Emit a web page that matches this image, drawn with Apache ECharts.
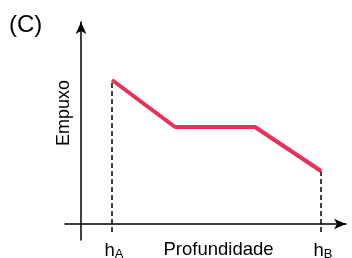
<!DOCTYPE html>
<html>
<head>
<meta charset="utf-8">
<script src="https://cdn.jsdelivr.net/npm/echarts@6/dist/echarts.min.js"></script>
<style>
html, body { margin: 0; padding: 0; background: #fff; }
#chart { width: 352px; height: 258px; }
</style>
</head>
<body>
<div id="chart"></div>
<script>
// profundidade (x) e empuxo (y), unidades arbitrárias
var depth = [3.1, 9.4, 17.4, 24];
var empuxo = [14.4, 9.7, 9.7, 5.3];
var markDepth = [3.1, 24];
var markNames = ['A', 'B'];
var dashBottom = -0.8;

var chart = echarts.init(document.getElementById('chart'));

var dashSeries = markDepth.map(function (d, i) {
	var top = empuxo[depth.indexOf(d)];
	return {
		type: 'line',
		data: [[d, dashBottom], [d, top]],
		symbol: 'none',
		silent: true,
		lineStyle: { color: '#000', width: 1.5, type: [5, 3] }
	};
});

chart.setOption({
	animation: false,
	title: {
		text: '(C)',
		left: 4,
		top: 8,
		textStyle: { fontFamily: 'Liberation Sans', fontSize: 24, fontWeight: 'normal', color: '#000' }
	},
	grid: { left: 65, right: 6, top: 22, bottom: 18, outerBoundsMode: 'none', containLabel: false },
	xAxis: {
		type: 'value',
		min: -1.6,
		max: 26.5,
		splitLine: { show: false },
		axisTick: { show: false },
		axisLine: {
			onZero: true,
			symbol: ['none', 'arrow'],
			symbolSize: [8, 12],
			lineStyle: { color: '#000', width: 1.5 }
		},
		axisLabel: {
			customValues: markDepth,
			margin: 0,
			formatter: function (v) {
				return '{h|h}{s|' + markNames[markDepth.indexOf(v)] + '}';
			},
			rich: {
				h: { fontFamily: 'Liberation Sans', fontSize: 18.5, color: '#000', padding: [0, 0, 0, 4] },
				s: { fontFamily: 'Liberation Sans', fontSize: 13, color: '#000', verticalAlign: 'top', padding: [8, 0, 0, 0] }
			}
		},
		name: 'Profundidade',
		nameLocation: 'middle',
		nameGap: 0,
		nameMoveOverlap: false,
		nameTextStyle: { fontFamily: 'Liberation Sans', fontSize: 18.5, color: '#000', padding: [0, 0, 0, 26] }
	},
	yAxis: {
		type: 'value',
		min: -1.6,
		max: 20.2,
		splitLine: { show: false },
		axisTick: { show: false },
		axisLabel: { show: false },
		axisLine: {
			onZero: true,
			symbol: ['none', 'arrow'],
			symbolSize: [8, 12],
			lineStyle: { color: '#000', width: 1.5 }
		},
		name: 'Empuxo',
		nameLocation: 'middle',
		nameGap: -8,
		nameMoveOverlap: false,
		nameTextStyle: { fontFamily: 'Liberation Sans', fontSize: 18, color: '#000', padding: [0, 0, 0, 36] }
	},
	series: dashSeries.concat([{
		type: 'line',
		data: depth.map(function (d, i) { return [d, empuxo[i]]; }),
		symbol: 'none',
		lineStyle: { color: '#e8305a', width: 4 },
		z: 3
	}])
});
</script>
</body>
</html>
